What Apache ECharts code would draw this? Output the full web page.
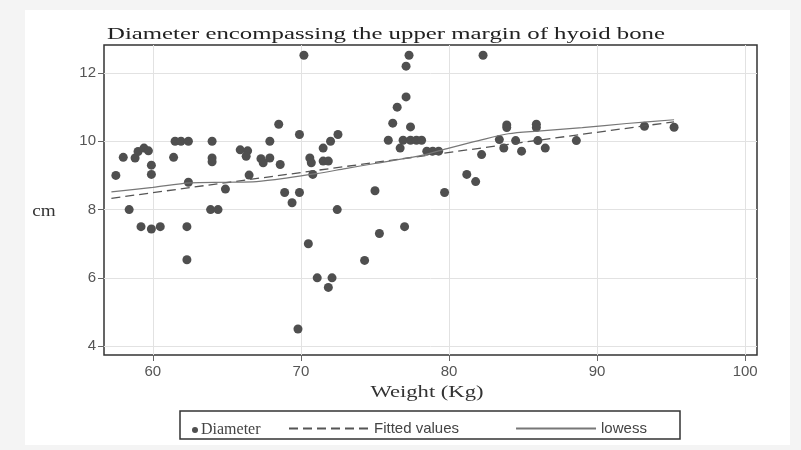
<!DOCTYPE html>
<html>
<head>
<meta charset="utf-8">
<script src="https://cdn.jsdelivr.net/npm/echarts@6/dist/echarts.min.js"></script>
<style>
html,body{margin:0;padding:0;background:#f4f4f4;}
#chart{width:801px;height:450px;}
</style>
</head>
<body>
<div id="chart"></div>
<script>
// ---- data ----
const titleText = 'Diameter encompassing the upper margin of hyoid bone';
const xName = 'Weight (Kg)';
const yName = 'cm';
const xTicks = [60, 70, 80, 90, 100];
const yTicks = [4, 6, 8, 10, 12];
const legendNames = ['Diameter', 'Fitted values', 'lowess'];

const weight = [57.5,58.0,58.4,58.8,59.0,59.4,59.7,59.9,59.9,59.2,59.9,60.5,61.4,61.5,61.9,62.4,62.4,62.3,62.3,64.0,64.0,64.0,63.9,64.4,64.9,65.9,66.4,66.3,66.5,67.3,67.9,67.45,67.9,68.5,68.6,68.9,69.4,69.9,69.9,70.2,69.8,70.5,70.6,70.7,70.8,71.1,71.85,72.1,71.5,71.85,71.5,72.0,72.5,72.45,74.3,75.0,75.3,75.9,76.2,76.5,76.7,76.9,77.0,77.1,77.1,77.3,77.4,77.4,77.8,78.15,78.5,78.9,79.3,79.7,81.2,81.8,82.2,82.3,83.4,83.7,83.9,83.9,84.5,84.9,85.9,85.9,86.0,86.5,88.6,93.2,95.2];
const diameter = [9.0,9.53,8.0,9.51,9.7,9.8,9.72,9.3,9.03,7.5,7.43,7.5,9.53,10.0,10.0,10.0,8.8,7.5,6.53,10.0,9.51,9.4,8.0,8.0,8.6,9.75,9.72,9.56,9.01,9.49,9.51,9.37,10.0,10.5,9.32,8.5,8.2,8.5,10.2,12.52,4.5,7.0,9.51,9.37,9.03,6.0,5.72,6.0,9.42,9.42,9.8,10.0,10.2,8.0,6.51,8.55,7.3,10.03,10.53,11.0,9.8,10.03,7.5,11.3,12.2,12.52,10.42,10.03,10.03,10.03,9.71,9.71,9.71,8.5,9.03,8.82,9.61,12.52,10.05,9.8,10.48,10.4,10.02,9.71,10.5,10.4,10.02,9.8,10.02,10.44,10.41];

const fitX = [57.2, 95.2];
const fitY = [8.33, 10.57];

const lowX = [57.2, 60, 62.5, 65, 67, 69, 71, 73, 75, 78, 80, 82, 84, 86, 89, 92, 95.2];
const lowY = [8.52, 8.65, 8.78, 8.8, 8.82, 8.92, 9.05, 9.2, 9.35, 9.57, 9.8, 10.02, 10.22, 10.3, 10.4, 10.52, 10.63];

// ---- helpers ----
const zip = (a, b) => a.map((v, i) => [v, b[i]]);
const mctx = document.createElement('canvas').getContext('2d');
function textWidth(t, font) { mctx.font = font; return mctx.measureText(t).width; }

const serif = '"Liberation Serif", "DejaVu Serif", serif';
const sans = '"Liberation Sans", Arial, sans-serif';

const titleFont = '16px ' + serif;
const titleScale = 558 / textWidth(titleText, titleFont);
const xNameFont = '16px ' + serif;
const xNameScale = 113 / textWidth(xName, xNameFont);

const chart = echarts.init(document.getElementById('chart'));
chart.setOption({
  backgroundColor: 'transparent',
  animation: false,
  grid: {
    left: 104, top: 45, width: 653, height: 310,
    show: true, borderColor: '#333', borderWidth: 1.5, backgroundColor: '#fff'
  },
  xAxis: {
    type: 'value', min: 56.7, max: 100.8,
    axisLine: { show: false },
    axisTick: { show: true, length: 6, customValues: xTicks, lineStyle: { color: '#666' } },
    axisLabel: { customValues: xTicks, color: '#555', fontSize: 15, fontFamily: sans, margin: 9 },
    splitLine: { show: true, lineStyle: { color: '#e2e2e2', width: 1 } }
  },
  yAxis: {
    type: 'value', min: 3.74, max: 12.82,
    axisLine: { show: false },
    axisTick: { show: true, length: 6, customValues: yTicks, lineStyle: { color: '#666' } },
    axisLabel: { customValues: yTicks, color: '#555', fontSize: 15, fontFamily: sans, margin: 8 },
    splitLine: { show: true, lineStyle: { color: '#e2e2e2', width: 1 } }
  },
  legend: [
    {
      data: [{ name: legendNames[0], icon: 'circle' }],
      left: 187, top: 417, itemWidth: 6, itemHeight: 6, itemGap: 4,
      textStyle: { fontFamily: serif, fontSize: 16, color: '#444', padding: [0, 0, 0, -2] }
    },
    {
      data: [legendNames[1], legendNames[2]],
      left: 283, top: 416, itemWidth: 80, itemHeight: 12, itemGap: 56,
      itemStyle: { opacity: 0, borderWidth: 0 },
      textStyle: { fontFamily: sans, fontSize: 15, color: '#444' }
    }
  ],
  graphic: [
    { type: 'rect', z: -10, shape: { x: 25, y: 10, width: 765, height: 435 }, style: { fill: '#fff' } },
    { type: 'rect', z: 1, shape: { x: 180, y: 411, width: 500, height: 28 }, style: { fill: '#fff', stroke: '#333', lineWidth: 1.5 } },
    { type: 'text', z: 5, x: 107, y: 35, scaleX: titleScale,
      style: { text: titleText, fontFamily: serif, fontSize: 16, fill: '#222', verticalAlign: 'middle', align: 'left' } },
    { type: 'text', z: 5, x: 427, y: 393, scaleX: xNameScale,
      style: { text: xName, fontFamily: serif, fontSize: 16, fill: '#333', verticalAlign: 'middle', align: 'center' } },
    { type: 'text', z: 5, x: 44, y: 212, scaleX: 1.2,
      style: { text: yName, fontFamily: serif, fontSize: 16, fill: '#333', verticalAlign: 'middle', align: 'center' } }
  ],
  series: [
    {
      name: legendNames[0], type: 'scatter', data: zip(weight, diameter),
      symbolSize: 9, itemStyle: { color: '#4f4f4f', opacity: 1 }, z: 3
    },
    {
      name: legendNames[1], type: 'line', data: zip(fitX, fitY), symbol: 'none',
      lineStyle: { color: '#555', width: 1.3, type: [9, 5] }, itemStyle: { color: '#555' }, z: 4
    },
    {
      name: legendNames[2], type: 'line', data: zip(lowX, lowY), symbol: 'none', smooth: 0.3,
      lineStyle: { color: '#777', width: 1.2 }, itemStyle: { color: '#777' }, z: 4
    }
  ]
});
</script>
</body>
</html>
